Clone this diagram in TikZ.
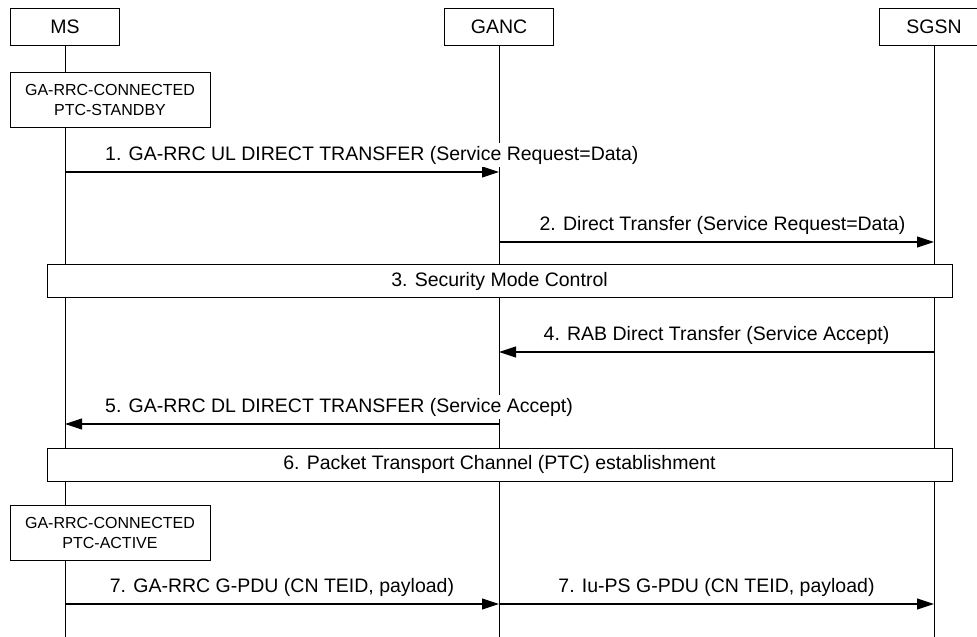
\documentclass[tikz,border=0pt]{standalone}
\usepackage{fontspec}
\setmainfont{Liberation Sans}
\usetikzlibrary{arrows.meta, calc}

\begin{document}
\begin{tikzpicture}[
    x=1pt, y=-1pt,
    every node/.style={font=\fontsize{19.5}{23}\selectfont},
    entity/.style={
        draw,
        line width=1pt,
        fill=white,
        minimum width=109pt,
        minimum height=37pt,
        inner sep=0pt,
        font=\fontsize{19.5}{22}\selectfont,
    },
    statebox/.style={
        draw,
        line width=1pt,
        fill=white,
        minimum width=200pt,
        minimum height=55pt,
        inner sep=0pt,
        align=center,
        font=\fontsize{16}{20}\selectfont,
    },
    procbox/.style={
        draw,
        line width=1pt,
        fill=white,
        minimum width=905pt,
        minimum height=33pt,
        inner sep=0pt,
    },
    lifeline/.style={line width=0.9pt},
    msg/.style={-{Triangle[length=17pt,width=11pt]}, line width=1.1pt},
    msglabel/.style={fill=white, inner xsep=1pt, inner ysep=3pt, anchor=base},
]

\useasboundingbox (0,0) rectangle (977,637);

% Lifeline columns
\def\xMS{65}
\def\xGANC{499}
\def\xSGSN{934}
\def\xMid{499.5}

% Y positions
\def\yHead{26.5}
\def\ySA{99.5}
\def\yA{172}
\def\yB{242}
\def\yC{281}
\def\yD{352}
\def\yE{424}
\def\yF{464.5}
\def\ySB{533}
\def\yG{604}

% --- Entities ---
\node[entity] (MS) at (\xMS, \yHead) {MS};
\node[entity] (GANC) at (\xGANC, \yHead) {GANC};
\node[entity] (SGSN) at (\xSGSN, \yHead) {SGSN};

% --- Lifelines ---
\coordinate (MSend) at (\xMS, 637);
\coordinate (GANCend) at (\xGANC, 637);
\coordinate (SGSNend) at (\xSGSN, 637);
\draw[lifeline] (MS.south) -- (MSend);
\draw[lifeline] (GANC.south) -- (GANCend);
\draw[lifeline] (SGSN.south) -- (SGSNend);

% --- Initial state ---
\node[statebox] (S1) at (110, \ySA) {GA-RRC-CONNECTED\\PTC-STANDBY};

% --- 1. UL direct transfer ---
\coordinate (ms1) at (\xMS, \yA);
\coordinate (ganc1) at (\xGANC, \yA);
\draw[msg] (ms1) -- (ganc1);
\node[msglabel, anchor=base west] (L1) at ([xshift=39pt, yshift=12pt]ms1)
    {1. GA-RRC UL DIRECT TRANSFER (Service Request=Data)};

% --- 2. Direct transfer ---
\coordinate (ganc2) at (\xGANC, \yB);
\coordinate (sgsn2) at (\xSGSN, \yB);
\draw[msg] (ganc2) -- (sgsn2);
\node[msglabel] (L2) at ([xshift=6pt, yshift=12pt]$(ganc2)!0.5!(sgsn2)$)
    {2. Direct Transfer (Service Request=Data)};

% --- 3. Security mode control ---
\node[procbox] (P3) at (\xMid, \yC) {3. Security Mode Control};

% --- 4. RAB direct transfer ---
\coordinate (sgsn4) at (\xSGSN, \yD);
\coordinate (ganc4) at (\xGANC, \yD);
\draw[msg] (sgsn4) -- (ganc4);
\node[msglabel] (L4) at ([yshift=12pt]$(ganc4)!0.5!(sgsn4)$)
    {4. RAB Direct Transfer (Service Accept)};

% --- 5. DL direct transfer ---
\coordinate (ganc5) at (\xGANC, \yE);
\coordinate (ms5) at (\xMS, \yE);
\draw[msg] (ganc5) -- (ms5);
\node[msglabel, anchor=base west] (L5) at ([xshift=39pt, yshift=12pt]ms5)
    {5. GA-RRC DL DIRECT TRANSFER (Service Accept)};

% --- 6. PTC establishment ---
\node[procbox] (P6) at (\xMid, \yF) {6. Packet Transport Channel (PTC) establishment};

% --- Final state ---
\node[statebox] (S2) at (110, \ySB) {GA-RRC-CONNECTED\\PTC-ACTIVE};

% --- 7. G-PDU transfer ---
\coordinate (ms7) at (\xMS, \yG);
\coordinate (ganc7) at (\xGANC, \yG);
\coordinate (sgsn7) at (\xSGSN, \yG);
\draw[msg] (ms7) -- (ganc7);
\draw[msg] (ganc7) -- (sgsn7);
\node[msglabel] (L7a) at ([yshift=12pt]$(ms7)!0.5!(ganc7)$)
    {7. GA-RRC G-PDU (CN TEID, payload)};
\node[msglabel] (L7b) at ([yshift=12pt]$(ganc7)!0.5!(sgsn7)$)
    {7. Iu-PS G-PDU (CN TEID, payload)};

\end{tikzpicture}
\end{document}
